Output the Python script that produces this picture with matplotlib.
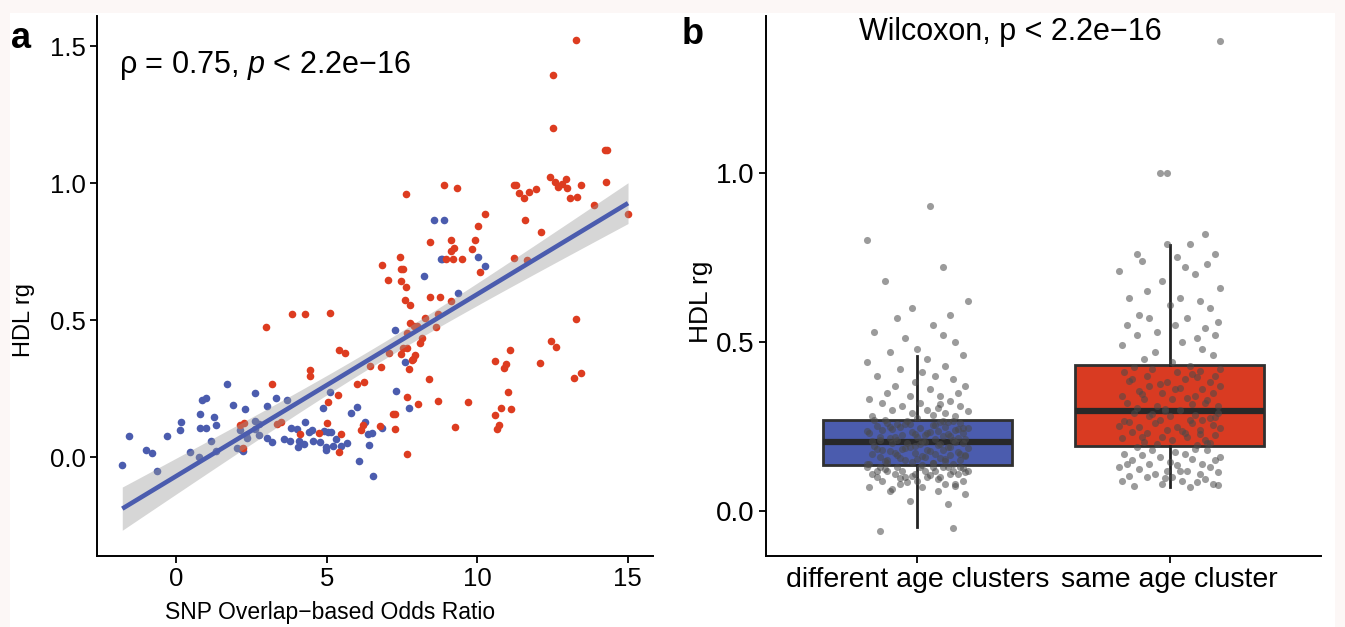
import numpy as np
import matplotlib
matplotlib.use("Agg")
import matplotlib.pyplot as plt
from matplotlib.patches import Rectangle

plt.rcParams['font.family'] = ['Liberation Sans', 'DejaVu Sans']
plt.rcParams['mathtext.fontset'] = 'custom'
plt.rcParams['mathtext.rm'] = 'Liberation Sans'
plt.rcParams['mathtext.it'] = 'Liberation Sans:italic'

# ---------------- Panel a data ----------------
blue_x = [-1.8, -1.58, -1.01, -0.82, -0.66, -0.33, 0.12, 0.16, 0.44, 0.76, 0.79, 0.98, 0.8, 0.84, 0.99,
          1.16, 1.26, 1.33, 1.67, 1.31, 1.89, 2.29, 2.6, 3.0, 3.32, 3.69, 2.01, 2.21, 2.1, 2.3, 2.35, 2.15,
          2.62, 2.73, 2.6, 2.76, 3.02, 3.18, 3.57, 3.76, 3.82, 4.01, 4.27, 4.4, 4.51, 4.92, 5.03, 5.14,
          5.31, 5.68, 4.07, 4.23, 4.03, 4.54, 4.77, 4.96, 4.96, 5.21, 5.46, 6.26, 6.37, 6.49, 6.4, 6.84,
          6.06, 6.54, 5.09, 4.86, 5.99, 5.79, 7.29, 7.73, 7.6, 7.26, 8.23, 8.57, 8.88, 8.79, 8.84, 9.36,
          10.03, 10.24]
blue_y = [-0.027, 0.079, 0.026, 0.017, -0.051, 0.079, 0.099, 0.128, 0.018, 0.0, 0.106, 0.107, 0.159, 0.21, 0.218,
          0.058, 0.147, 0.119, 0.269, 0.023, 0.192, 0.175, 0.235, 0.189, 0.216, 0.209, 0.033, 0.023, 0.1, 0.08, 0.07, 0.03,
          0.131, 0.122, 0.105, 0.08, 0.07, 0.055, 0.066, 0.06, 0.107, 0.105, 0.13, 0.092, 0.099, 0.095, 0.092, 0.092,
          0.068, 0.054, 0.06, 0.05, 0.038, 0.058, 0.056, 0.038, 0.028, 0.04, 0.04, 0.129, 0.086, 0.089, 0.044, 0.106,
          -0.013, -0.067, 0.238, 0.181, 0.182, 0.162, 0.242, 0.181, 0.348, 0.466, 0.662, 0.867, 0.867, 0.723, 0.723, 0.6,
          0.731, 0.699]
red_x = [2.12, 2.23, 2.21, 3.18, 3.34, 3.46, 2.99, 3.84, 4.28, 5.09, 4.43, 4.43, 4.1, 4.73, 5.0, 5.04, 5.38,
         5.47, 5.4, 5.41, 5.6, 6.01, 6.23, 6.19, 6.12, 6.43, 6.8, 6.77, 7.27, 7.2, 7.27, 7.66, 7.66, 7.73, 7.84,
         8.03, 8.4, 8.68, 9.26, 9.7, 7.08, 7.48, 7.53, 7.67, 7.92, 7.86, 7.67, 8.16, 8.1, 7.76, 7.9, 8.01, 8.27,
         8.7, 8.63, 7.61, 7.77, 8.44, 8.76, 9.14, 7.04, 7.46, 7.63, 6.82, 7.46, 7.53, 7.44, 8.96, 9.2, 9.5, 9.24,
         9.14, 9.82, 9.93, 9.11, 8.43, 10.01, 10.27, 10.1, 7.64, 8.88, 9.31, 10.58, 13.27, 12.51, 12.53, 14.23,
         14.31, 14.28, 11.21, 11.29, 11.38, 11.56, 11.71, 11.96, 12.42, 12.57, 12.68, 12.8, 12.94, 12.97, 13.46,
         13.07, 13.3, 13.87, 15.01, 11.57, 12.13, 11.21, 11.64, 13.29, 12.44, 12.6, 11.08, 10.96, 10.9, 12.1,
         13.21, 13.46, 11.03, 10.78, 11.11, 10.58, 10.73, 10.67]
red_y = [0.117, 0.125, 0.035, 0.269, 0.123, 0.128, 0.476, 0.522, 0.523, 0.528, 0.32, 0.296, 0.084, 0.089, 0.126, 0.2, 0.227,
         0.086, 0.018, 0.393, 0.382, 0.266, 0.276, 0.119, 0.099, 0.332, 0.331, 0.113, 0.105, 0.159, 0.157, 0.22, 0.013, 0.321, 0.354,
         0.196, 0.284, 0.204, 0.111, 0.2, 0.382, 0.378, 0.4, 0.4, 0.375, 0.358, 0.453, 0.435, 0.417, 0.489, 0.479, 0.479, 0.507,
         0.522, 0.476, 0.573, 0.556, 0.586, 0.586, 0.572, 0.647, 0.642, 0.623, 0.701, 0.686, 0.688, 0.732, 0.724, 0.724, 0.723, 0.763,
         0.752, 0.759, 0.793, 0.794, 0.785, 0.844, 0.888, 0.676, 0.961, 0.992, 0.983, 0.35, 1.524, 1.394, 1.201, 1.122,
         1.122, 1.004, 0.995, 0.995, 0.966, 0.946, 0.968, 0.979, 1.021, 1.005, 0.987, 0.996, 1.015, 0.984, 0.993,
         0.946, 0.95, 0.92, 0.887, 0.864, 0.823, 0.728, 0.721, 0.503, 0.426, 0.401, 0.393, 0.342, 0.327, 0.343,
         0.288, 0.309, 0.237, 0.18, 0.176, 0.156, 0.119, 0.103]

# ---------------- Panel b data ----------------
groups = ["different age clusters", "same age cluster"]
box_q1 = [0.136, 0.192]
box_med = [0.204, 0.296]
box_q3 = [0.269, 0.432]
box_lo = [-0.047, 0.071]
box_hi = [0.459, 0.787]

diff_y = [-0.06, -0.05, 0.02, 0.03, 0.05, 0.06, 0.06, 0.07, 0.07, 0.08, 0.08, 0.08, 0.09, 0.09, 0.09, 0.10, 0.10, 0.10, 0.10, 0.11,
          0.11, 0.11, 0.11, 0.11, 0.12, 0.12, 0.12, 0.12, 0.12, 0.12, 0.13, 0.13, 0.13, 0.13, 0.13, 0.13, 0.13, 0.13, 0.105, 0.115,
          0.125, 0.095, 0.085, 0.075, 0.065, 0.135, 0.128, 0.118, 0.108, 0.098,
          0.14, 0.14, 0.142, 0.145, 0.147, 0.15, 0.15, 0.152, 0.155, 0.157, 0.16, 0.16, 0.162, 0.165, 0.167, 0.17, 0.17, 0.172, 0.175, 0.177,
          0.18, 0.18, 0.182, 0.185, 0.187, 0.19, 0.19, 0.192, 0.195, 0.197, 0.20, 0.20, 0.201, 0.203, 0.138, 0.143, 0.148, 0.153, 0.158, 0.163,
          0.168, 0.173, 0.178, 0.183, 0.188, 0.193, 0.198, 0.141, 0.166, 0.186,
          0.205, 0.207, 0.21, 0.21, 0.212, 0.215, 0.217, 0.22, 0.22, 0.222, 0.225, 0.227, 0.23, 0.23, 0.232, 0.235, 0.237, 0.24, 0.24, 0.242,
          0.245, 0.247, 0.25, 0.25, 0.252, 0.255, 0.257, 0.26, 0.26, 0.262, 0.265, 0.267, 0.268, 0.206, 0.213, 0.218, 0.223, 0.228, 0.233, 0.238,
          0.243, 0.248, 0.253, 0.258, 0.263, 0.209, 0.226, 0.246, 0.256, 0.266,
          0.27, 0.275, 0.28, 0.28, 0.285, 0.29, 0.29, 0.295, 0.30, 0.30, 0.305, 0.31, 0.31, 0.32, 0.32, 0.325, 0.33, 0.34, 0.34, 0.35,
          0.35, 0.36, 0.37, 0.37, 0.38, 0.39, 0.40, 0.40, 0.41, 0.42, 0.43, 0.44, 0.45, 0.46, 0.47, 0.48, 0.50, 0.51, 0.52, 0.53,
          0.55, 0.57, 0.58, 0.60, 0.62, 0.68, 0.72, 0.80, 0.90, 0.315]
diff_dx = [-15, 14, 12, -3, 19, -11, 8, -19, 2, 15,
           -7, 11, -14, 0, 18, -5, 9, -16, 4, 13,
           -9, 16, -1, -18, 7, 14, -12, 3, 20, -6,
           10, -15, 1, 17, -8, 6, -20, 12, -2, 19,
           -13, 8, -4, 15, -10, 2, 18, -16, 5, -7,
           14, -19, 6, -2, 11, -12, 17, -5, 0, 9,
           -15, 3, 19, -8, 13, -18, 7, -1, 16, -11,
           4, -14, 10, -6, 20, -3, 12, -17, 8, 1,
           -10, 18, -4, 15, -20, 6, -13, 11, -7, 2,
           17, -9, 5, -16, 13, -1, 9, -12, 19, -5,
           3, -18, 14, -8, 7, 16, -11, 0, -15, 10,
           -6, 12, -19, 4, 18, -2, 8, -14, 15, -10,
           1, 20, -7, 11, -16, 6, -3, 17, -12, 9,
           -4, 14, -17, 2, 19, -9, 13, -1, 5, -20,
           16, -11, 7, -5, 12, -15, 3, 18, -8, 10,
           -13, 0, 15, -18, 6, 11, -2, 20, -10, 4,
           8, -6, 17, -14, 1, 13, -19, 9, -3, 16,
           -12, 5, -9, 19, -1, 14, -16, 7, 2, -7,
           11, -20, 4, 18, -11, 0, 15, -5, 10, -17,
           6, -8, 13, -2, 20, -13, 10, -20, 5, 9]

same_y = [0.072, 0.075, 0.08, 0.08, 0.085, 0.09, 0.09, 0.095, 0.10, 0.10,
          0.105, 0.11, 0.11, 0.115, 0.12, 0.12, 0.125, 0.13, 0.13, 0.135,
          0.14, 0.14, 0.145, 0.15, 0.15, 0.155, 0.16, 0.16, 0.165, 0.17,
          0.17, 0.175, 0.18, 0.18, 0.185, 0.19, 0.078, 0.098, 0.118, 0.138,
          0.195, 0.198, 0.20, 0.205, 0.21, 0.21, 0.215, 0.22, 0.22, 0.225,
          0.23, 0.23, 0.235, 0.24, 0.24, 0.245, 0.25, 0.25, 0.255, 0.26,
          0.26, 0.265, 0.27, 0.27, 0.275, 0.28, 0.28, 0.285, 0.29, 0.29,
          0.295, 0.202, 0.218, 0.238, 0.252, 0.268, 0.278, 0.288, 0.228, 0.262,
          0.30, 0.305, 0.31, 0.31, 0.315, 0.32, 0.32, 0.33, 0.33, 0.335,
          0.34, 0.34, 0.35, 0.35, 0.355, 0.36, 0.36, 0.37, 0.37, 0.375,
          0.38, 0.38, 0.39, 0.39, 0.395, 0.40, 0.40, 0.41, 0.41, 0.415,
          0.42, 0.42, 0.425, 0.43, 0.302, 0.328, 0.345, 0.365, 0.385, 0.405,
          0.44, 0.45, 0.46, 0.47, 0.48, 0.49, 0.50, 0.51, 0.52, 0.52,
          0.53, 0.54, 0.55, 0.55, 0.56, 0.57, 0.57, 0.58, 0.60, 0.61,
          0.62, 0.63, 0.63, 0.65, 0.66, 0.68, 0.70, 0.71, 0.72, 0.73,
          0.74, 0.75, 0.76, 0.76, 0.79, 0.79, 0.82, 1.00, 1.00, 1.39]
same_dx = [8, -14, 17, -3, 11, -19, 5, 14, -9, 1,
           -16, 12, -6, 19, -1, 7, -12, 16, -20, 3,
           13, -8, 0, 18, -15, 9, -4, 20, -11, 6,
           -18, 2, 15, -7, 10, -13, 19, -2, 4, -17,
           11, -5, 16, -10, 1, 14, -19, 7, -3, 18,
           -9, 6, -15, 12, -1, 20, -12, 3, 17, -6,
           9, -18, 13, -4, 16, -8, 0, 10, -14, 19,
           -2, 15, -11, 5, -20, 8, 18, -7, 12, -16,
           4, -13, 19, -5, 9, -17, 14, 1, -10, 7,
           -19, 10, -3, 17, -12, 2, 13, -8, 20, -4,
           16, -1, 6, -15, 11, -9, 18, -18, 3, 12,
           -7, 20, -14, 8, -2, 15, -11, 4, -16, 9,
           1, -10, 17, -6, 13, -19, 5, 11, -13, 18,
           -5, 14, -17, 2, 19, -8, 7, -12, 16, 0,
           12, -16, 4, -9, 20, -3, 10, -20, 6, 15,
           -11, 3, 18, -13, 8, -1, 14, -4, -1, 20]

RED = '#DD3C20'
BLUE = '#4B5CAE'
W, H = 1345, 627

fig = plt.figure(figsize=(W / 100, H / 100), dpi=100)
fig.patch.set_facecolor('#FCF7F6')
bg = fig.add_axes([10 / W, 0, (W - 20) / W, 1 - 13 / H], zorder=-10)
bg.axis('off')
bg.add_patch(Rectangle((0, 0), 1, 1, transform=bg.transAxes, facecolor='white', edgecolor='none'))


def style_axes(ax, lsize):
    for s in ['top', 'right']:
        ax.spines[s].set_visible(False)
    for s in ['left', 'bottom']:
        ax.spines[s].set_linewidth(1.4)
        ax.spines[s].set_color('black')
    ax.tick_params(direction='out', length=5, width=1.3, labelsize=lsize, colors='black', pad=3)
    ax.set_facecolor('none')


# ---------------- Panel a ----------------
axA = fig.add_axes([97 / W, 1 - 556 / H, (653 - 97) / W, (556 - 16) / H])
style_axes(axA, 18.5)
axA.scatter(blue_x, blue_y, s=30, color=BLUE, linewidths=0, zorder=2)
axA.scatter(red_x, red_y, s=30, color=RED, linewidths=0, zorder=2)

allx = np.array(blue_x + red_x)
ally = np.array(blue_y + red_y)
n = len(allx)
slope, icpt = np.polyfit(allx, ally, 1)
resid = ally - (slope * allx + icpt)
s_err = np.sqrt(np.sum(resid ** 2) / (n - 2))
xm = allx.mean()
sxx = np.sum((allx - xm) ** 2)
xg = np.linspace(allx.min(), allx.max(), 100)
yg = slope * xg + icpt
se = s_err * np.sqrt(1 / n + (xg - xm) ** 2 / sxx)
axA.fill_between(xg, yg - 1.97 * se, yg + 1.97 * se, color='#999999', alpha=0.4, linewidth=0, zorder=3)
axA.plot(xg, yg, color=BLUE, linewidth=3.3, zorder=4, solid_capstyle='butt')

axA.set_xlim(-2.64, 15.84)
axA.set_ylim(-0.36, 1.61)
axA.set_xticks([0, 5, 10, 15])
axA.set_yticks([0.0, 0.5, 1.0, 1.5])
axA.set_yticklabels(['0.0', '0.5', '1.0', '1.5'])
axA.set_xlabel('SNP Overlap\u2212based Odds Ratio', fontsize=16.5)
axA.xaxis.set_label_coords(0.42, -0.083)
axA.set_ylabel('HDL rg', fontsize=17)
axA.yaxis.set_label_coords(-0.112, 0.437)
axA.text(-1.9, 1.43, '\u03c1 = 0.75, $\\mathit{p}$ < 2.2e\u221216', fontsize=22, ha='left', va='center')

# ---------------- Panel b ----------------
axB = fig.add_axes([766 / W, 1 - 556 / H, (1321 - 766) / W, (556 - 16) / H])
style_axes(axB, 20)
stats = []
for i in range(2):
    stats.append(dict(med=box_med[i], q1=box_q1[i], q3=box_q3[i], whislo=box_lo[i], whishi=box_hi[i],
                      fliers=[], label=groups[i]))
bp = axB.bxp(stats, positions=[1, 2], widths=0.75, patch_artist=True, showcaps=False, showfliers=False,
             boxprops=dict(edgecolor='#303030', linewidth=2.0),
             medianprops=dict(color='#282828', linewidth=4.5, solid_capstyle='butt'),
             whiskerprops=dict(color='#222222', linewidth=2.0))
for patch, col in zip(bp['boxes'], [BLUE, '#D93B22']):
    patch.set_facecolor(col)
    patch.set_zorder(2)

axB.scatter(1 + np.array(diff_dx) / 100.0, diff_y, s=26, color='#4A4A4A', alpha=0.55, linewidths=0, zorder=3)
axB.scatter(2 + np.array(same_dx) / 100.0, same_y, s=26, color='#4A4A4A', alpha=0.55, linewidths=0, zorder=3)

axB.set_xlim(0.4, 2.6)
axB.set_ylim(-0.1325, 1.4625)
axB.set_xticks([1, 2])
axB.set_xticklabels(groups, fontsize=20.5)
axB.set_yticks([0.0, 0.5, 1.0])
axB.set_yticklabels(['0.0', '0.5', '1.0'])
axB.set_ylabel('HDL rg', fontsize=19)
axB.yaxis.set_label_coords(-0.095, 0.47)
axB.text(1.37, 1.414, 'Wilcoxon, p < 2.2e\u221216', fontsize=22, ha='center', va='center')

fig.text(21 / W, 1 - 38 / H, 'a', fontsize=26, fontweight='bold', ha='center', va='center')
fig.text(693 / W, 1 - 34 / H, 'b', fontsize=26, fontweight='bold', ha='center', va='center')

fig.savefig('out.png', dpi=100, facecolor=fig.get_facecolor())
